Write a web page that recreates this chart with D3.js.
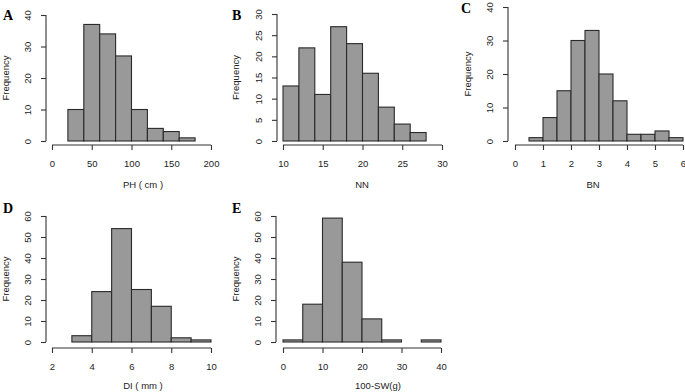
<!DOCTYPE html>
<html>
<head>
<meta charset="utf-8">
<script src="https://cdn.jsdelivr.net/npm/d3@7"></script>
<style>
  body { margin: 0; background: #fff; }
  text { font-family: "Liberation Sans", Arial, sans-serif; fill: #222; }
</style>
</head>
<body>
<script>
// histogram data: bin edges + counts
let phEdges = [20, 40, 60, 80, 100, 120, 140, 160, 180]
let phCounts = [10, 37, 34, 27, 10, 4, 3, 1]
let phTicksX = [0, 50, 100, 150, 200]
let phTicksY = [0, 10, 20, 30, 40]

let nnEdges = [10, 12, 14, 16, 18, 20, 22, 24, 26, 28]
let nnCounts = [13, 22, 11, 27, 23, 16, 8, 4, 2]
let nnTicksX = [10, 15, 20, 25, 30]
let nnTicksY = [0, 5, 10, 15, 20, 25, 30]

let bnEdges = [0.5, 1, 1.5, 2, 2.5, 3, 3.5, 4, 4.5, 5, 5.5, 6]
let bnCounts = [1, 7, 15, 30, 33, 20, 12, 2, 2, 3, 1]
let bnTicksX = [0, 1, 2, 3, 4, 5, 6]
let bnTicksY = [0, 10, 20, 30, 40]

let diEdges = [3, 4, 5, 6, 7, 8, 9, 10]
let diCounts = [3, 24, 54, 25, 17, 2, 1]
let diTicksX = [2, 4, 6, 8, 10]
let diTicksY = [0, 10, 20, 30, 40, 50, 60]

let swEdges = [0, 5, 10, 15, 20, 25, 30, 35, 40]
let swCounts = [1, 18, 59, 38, 11, 1, 0, 1]
let swTicksX = [0, 10, 20, 30, 40]
let swTicksY = [0, 10, 20, 30, 40, 50, 60]

let width = 685
let height = 392

let svg = d3.select('body').append('svg')
  .attr('width', width)
  .attr('height', height)

// layout of each panel (pixels)
let panels = [
  {tag: 'A', edges: phEdges, counts: phCounts, tx: phTicksX, ty: phTicksY, xlab: 'PH ( cm )',
   x0: 52, x1: 211, y0: 141, y1: 15, yAxisX: 46, xAxisY: 145, tagX: 3, tagY: 20, freqX: 9, labX: 143, labY: 188},
  {tag: 'B', edges: nnEdges, counts: nnCounts, tx: nnTicksX, ty: nnTicksY, xlab: 'NN',
   x0: 283, x1: 442, y0: 141, y1: 14, yAxisX: 277, xAxisY: 145, tagX: 232, tagY: 20, freqX: 239, labX: 362, labY: 188},
  {tag: 'C', edges: bnEdges, counts: bnCounts, tx: bnTicksX, ty: bnTicksY, xlab: 'BN',
   x0: 515, x1: 683, y0: 141, y1: 7, yAxisX: 508, xAxisY: 145, tagX: 461, tagY: 13, freqX: 471, labX: 593, labY: 188},
  {tag: 'D', edges: diEdges, counts: diCounts, tx: diTicksX, ty: diTicksY, xlab: 'DI ( mm )',
   x0: 52, x1: 211, y0: 342, y1: 216, yAxisX: 46, xAxisY: 348, tagX: 3, tagY: 213, freqX: 9, labX: 143, labY: 389},
  {tag: 'E', edges: swEdges, counts: swCounts, tx: swTicksX, ty: swTicksY, xlab: '100-SW(g)',
   x0: 283, x1: 441, y0: 342, y1: 216, yAxisX: 276, xAxisY: 348, tagX: 232, tagY: 213, freqX: 239, labX: 378, labY: 389}
]

panels.forEach(drawPanel)

function drawPanel(p) {
  let g = svg.append('g')
  let scaleX = d3.scaleLinear()
    .domain(d3.extent(p.tx))
    .range([p.x0, p.x1])
  let scaleY = d3.scaleLinear()
    .domain(d3.extent(p.ty))
    .range([p.y0, p.y1])

  let bins = p.counts.map((c, i) => ({lo: p.edges[i], hi: p.edges[i + 1], n: c}))

  g.selectAll('rect').data(bins)
    .enter()
    .append('rect')
    .attr('x', d => scaleX(d.lo))
    .attr('width', d => scaleX(d.hi) - scaleX(d.lo))
    .attr('y', d => scaleY(d.n))
    .attr('height', d => scaleY(0) - scaleY(d.n))
    .attr('fill', '#999999')
    .attr('stroke', '#2a2a2a')
    .attr('stroke-width', 1.1)

  // x axis
  let xa = g.append('g')
    .attr('transform', 'translate(0,' + p.xAxisY + ')')
    .call(d3.axisBottom(scaleX).tickValues(p.tx).tickSize(5).tickPadding(7).tickFormat(d3.format('')))
  // y axis
  let ya = g.append('g')
    .attr('transform', 'translate(' + p.yAxisX + ',0)')
    .call(d3.axisLeft(scaleY).tickValues(p.ty).tickSize(5).tickPadding(7).tickFormat(d3.format('')))

  ;[xa, ya].forEach(a => {
    a.select('.domain').attr('stroke', '#333').attr('stroke-width', 1.1)
      .attr('d', a === xa
        ? 'M' + p.x0 + ',0H' + p.x1
        : 'M0,' + p.y0 + 'V' + p.y1)
    a.selectAll('.tick line').attr('stroke', '#333').attr('stroke-width', 1.1)
    a.selectAll('.tick text')
      .style('font-family', '"Liberation Sans", Arial, sans-serif')
      .style('font-size', '9.5px')
      .attr('fill', '#222')
  })
  xa.selectAll('.tick text').attr('dy', '1em')
  ya.selectAll('.tick text')
    .attr('text-anchor', 'middle')
    .attr('x', 0)
    .attr('y', -10)
    .attr('dy', 0)
    .attr('transform', 'translate(-5,0) rotate(-90)')

  g.append('text')
    .attr('x', p.labX)
    .attr('y', p.labY)
    .attr('text-anchor', 'middle')
    .attr('font-size', '9.5px')
    .text(p.xlab)

  g.append('text')
    .attr('transform', 'translate(' + p.freqX + ',' + ((p.y0 + p.y1) / 2) + ') rotate(-90)')
    .attr('text-anchor', 'middle')
    .attr('font-size', '9.5px')
    .text('Frequency')

  g.append('text')
    .attr('x', p.tagX)
    .attr('y', p.tagY)
    .style('font-family', '"Liberation Serif", "Times New Roman", serif')
    .attr('font-weight', 'bold')
    .attr('font-size', '14px')
    .style('fill', '#000')
    .text(p.tag)
}
</script>
</body>
</html>
